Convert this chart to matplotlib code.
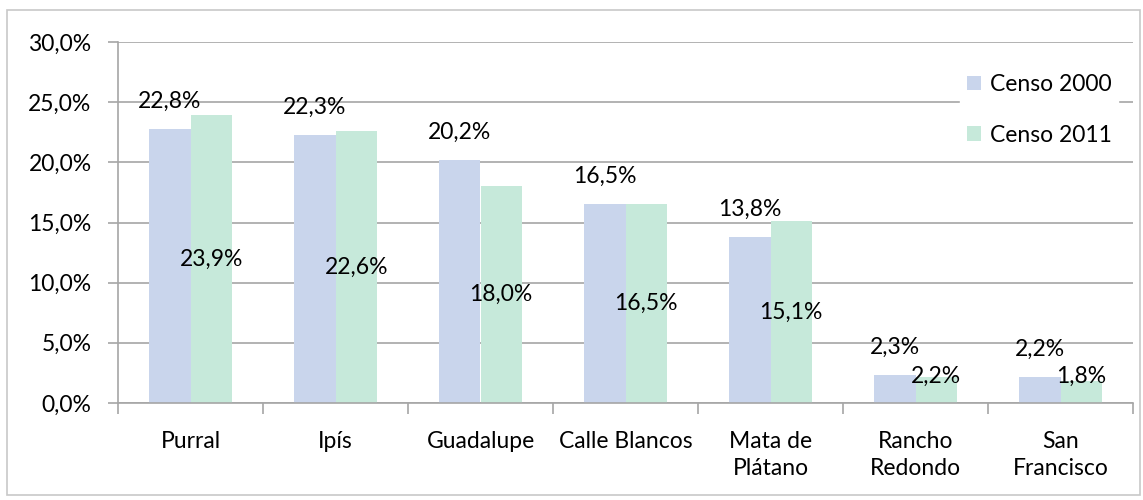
import numpy as np
import matplotlib.pyplot as plt
from matplotlib.patches import Rectangle
from matplotlib.ticker import FuncFormatter

plt.rcParams['font.family'] = ['Lato', 'DejaVu Sans']

categories = ['Purral', 'Ipís', 'Guadalupe', 'Calle Blancos', 'Mata de\nPlátano',
              'Rancho\nRedondo', 'San\nFrancisco']
censo_2000 = [22.8, 22.3, 20.2, 16.5, 13.8, 2.3, 2.2]
censo_2011 = [23.9, 22.6, 18.0, 16.5, 15.1, 2.2, 1.8]

fmt = lambda v: f'{v:.1f}%'.replace('.', ',')
fs = 16.5

fig = plt.figure(figsize=(11.43, 5), dpi=100)
fig.patches.append(Rectangle((7 / 1143, 5 / 500), 1133 / 1143, 485 / 500,
                             transform=fig.transFigure, fill=False,
                             edgecolor='#c8c8c8', linewidth=1.2))
ax = fig.add_axes([118 / 1143, 1 - 403 / 500, 1015 / 1143, 361 / 500])

x = np.arange(len(categories))
w = 0.285
c1, c2 = '#c9d5ec', '#c6e9da'
ax.bar(x - w / 2, censo_2000, w, color=c1, label='Censo 2000', zorder=2)
ax.bar(x + w / 2, censo_2011, w, color=c2, label='Censo 2011', zorder=2)

for i, v in enumerate(censo_2000):
    ax.text(x[i] - w / 2, v + 2.3, fmt(v), ha='center', va='center', fontsize=fs, zorder=4)
for i, v in enumerate(censo_2011):
    ax.text(x[i] + w / 2, max(v / 2, 2.2), fmt(v), ha='center', va='center', fontsize=fs, zorder=4)

ax.set_xlim(-0.5, len(categories) - 0.5)
ax.set_ylim(0, 30)
ax.set_yticks(np.arange(0, 31, 5))
ax.yaxis.set_major_formatter(FuncFormatter(lambda v, p: fmt(v)))
ax.yaxis.grid(True, color='#a6a6a6', linewidth=1.2, zorder=0)
ax.set_axisbelow(True)

ax.set_xticks(x)
ax.set_xticklabels(categories, fontsize=fs, linespacing=1.35)
ax.tick_params(axis='x', length=0, pad=20)
ax.set_xticks(np.arange(-0.5, len(categories)), minor=True)
ax.tick_params(axis='x', which='minor', length=8, color='#a6a6a6', width=1.2)
ax.tick_params(axis='y', labelsize=fs, length=7, color='#a6a6a6', width=1.2, pad=12)

for s in ['top', 'right']:
    ax.spines[s].set_visible(False)
for s in ['left', 'bottom']:
    ax.spines[s].set_color('#a6a6a6')
    ax.spines[s].set_linewidth(1.2)

leg = ax.legend(loc='upper right', bbox_to_anchor=(0.997, 0.962), frameon=True,
                fontsize=fs, handlelength=0.6, handleheight=0.6, handletextpad=0.4,
                labelspacing=1.3, borderpad=0.3, fancybox=False)
leg.get_frame().set_edgecolor('white')
leg.get_frame().set_facecolor('white')
leg.get_frame().set_alpha(1)

fig.savefig('out.png', dpi=100)
